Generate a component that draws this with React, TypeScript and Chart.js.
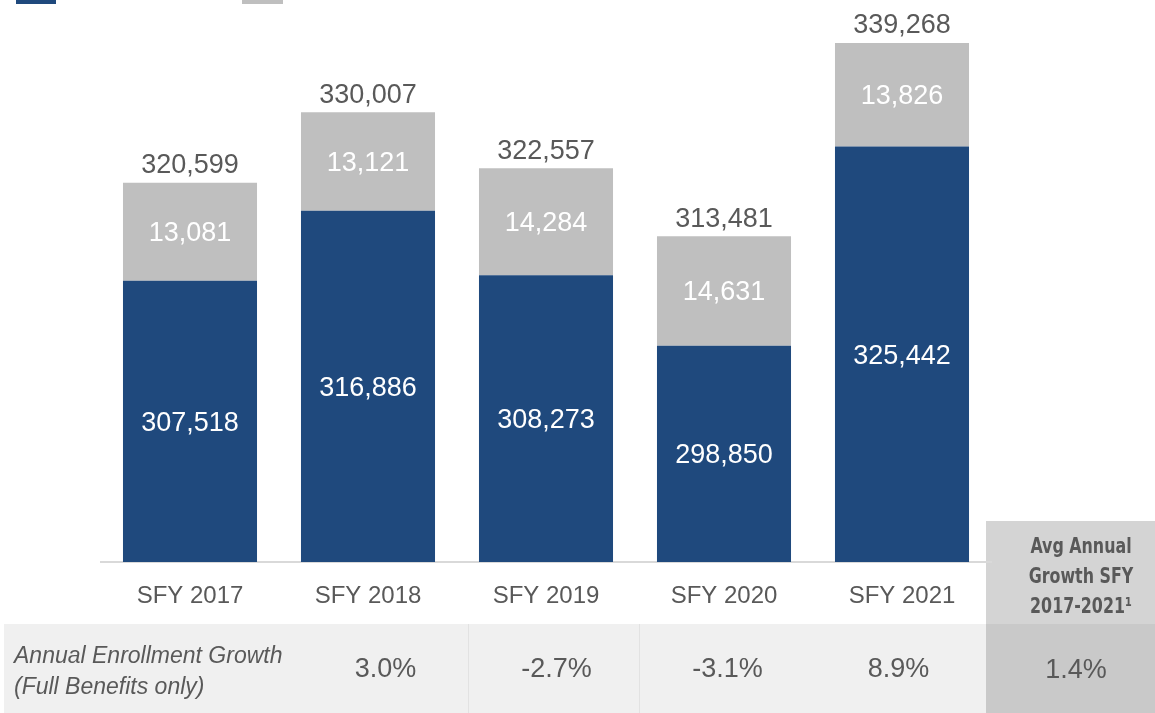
import React, { useEffect, useRef } from "react";
import { Chart, registerables } from "chart.js";

Chart.register(...registerables);

const categories = ["SFY 2017", "SFY 2018", "SFY 2019", "SFY 2020", "SFY 2021"];
const fullBenefits = [307518, 316886, 308273, 298850, 325442];
const limitedBenefits = [13081, 13121, 14284, 14631, 13826];
const totals = [320599, 330007, 322557, 313481, 339268];
const growthRowLabel = ["Annual Enrollment Growth", "(Full Benefits only)"];
const growthValues = ["3.0%", "-2.7%", "-3.1%", "8.9%"];
const avgHeader = ["Avg Annual", "Growth SFY", "2017-2021\u00B9"];
const avgValue = "1.4%";

const BLUE = "#1F497D";
const GRAY = "#BFBFBF";
const TEXT = "#595959";
const FONT = "'Liberation Sans', Arial, sans-serif";

const fmt = (v: number) => v.toLocaleString("en-US");

const decorPlugin = {
  id: "decor",
  beforeDraw(chart: any) {
    const ctx = chart.ctx;
    ctx.save();
    // legend swatches (cut off at top)
    ctx.fillStyle = BLUE;
    ctx.fillRect(16, 0, 40, 4);
    ctx.fillStyle = GRAY;
    ctx.fillRect(242, 0, 41, 4);
    // table row
    ctx.fillStyle = "#F0F0F0";
    ctx.fillRect(4, 624, 982, 89);
    ctx.strokeStyle = "#E2E2E2";
    ctx.lineWidth = 1;
    [468.5, 639.5].forEach((x) => {
      ctx.beginPath();
      ctx.moveTo(x, 624);
      ctx.lineTo(x, 713);
      ctx.stroke();
    });
    // avg box
    ctx.fillStyle = "#D4D4D4";
    ctx.fillRect(986, 521, 169, 103);
    ctx.fillStyle = "#C9C9C9";
    ctx.fillRect(986, 624, 169, 89);
    ctx.restore();
  },
  afterDraw(chart: any) {
    const ctx = chart.ctx;
    ctx.save();
    ctx.fillStyle = TEXT;
    ctx.textBaseline = "middle";
    // row label
    ctx.textAlign = "left";
    ctx.font = `italic 23px ${FONT}`;
    growthRowLabel.forEach((t, i) => ctx.fillText(t, 14, 657 + i * 31));
    // growth values
    ctx.textAlign = "center";
    ctx.font = `27px ${FONT}`;
    const colStart = 300;
    const colW = 171;
    growthValues.forEach((t, i) => ctx.fillText(t, colStart + colW * (i + 0.5), 670));
    // avg box header (condensed bold)
    ctx.font = `bold 21px 'DejaVu Sans Condensed', ${FONT}`;
    avgHeader.forEach((t, i) => {
      ctx.save();
      ctx.translate(1081, 548 + i * 30);
      ctx.scale(0.84, 1);
      ctx.fillText(t, 0, 0);
      ctx.restore();
    });
    ctx.font = `27px ${FONT}`;
    ctx.fillText(avgValue, 1076, 671);
    ctx.restore();
  },
  afterDatasetsDraw(chart: any) {
    const ctx = chart.ctx;
    const bottom = chart.chartArea.bottom;
    ctx.save();
    ctx.textAlign = "center";
    ctx.textBaseline = "middle";
    ctx.font = `27px ${FONT}`;
    [0, 1].forEach((di) => {
      const meta = chart.getDatasetMeta(di);
      meta.data.forEach((el: any, i: number) => {
        const v = chart.data.datasets[di].data[i] as number;
        const base = Math.min(el.base, bottom);
        ctx.fillStyle = "#FFFFFF";
        ctx.fillText(fmt(v), el.x, (el.y + base) / 2 + 2);
      });
    });
    const top = chart.getDatasetMeta(1);
    top.data.forEach((el: any, i: number) => {
      ctx.fillStyle = TEXT;
      ctx.fillText(fmt(totals[i]), el.x, el.y - 17);
    });
    ctx.restore();
  },
};

export default function App() {
  const ref = useRef<HTMLCanvasElement>(null);
  useEffect(() => {
    if (!ref.current) return;
    const chart = new Chart(ref.current, {
      type: "bar",
      data: {
        labels: categories,
        datasets: [
          { label: "Full Benefits", data: fullBenefits, backgroundColor: BLUE, borderWidth: 0 },
          { label: "Limited Benefits", data: limitedBenefits, backgroundColor: GRAY, borderWidth: 0 },
        ],
      },
      options: {
        animation: false,
        responsive: false,
        maintainAspectRatio: false,
        layout: { padding: { left: 101, right: 164, top: 0, bottom: 0 } },
        datasets: { bar: { categoryPercentage: 1, barPercentage: 0.753 } },
        plugins: { legend: { display: false }, tooltip: { enabled: false } },
        scales: {
          x: {
            stacked: true,
            grid: { display: false },
            border: { display: true, color: "#D9D9D9", width: 2 },
            ticks: { color: TEXT, font: { family: FONT, size: 24 }, padding: 12 },
            afterFit: (s: any) => {
              s.height = 151;
            },
          },
          y: {
            stacked: true,
            display: false,
            min: 270000,
            max: 345000,
          },
        },
      },
      plugins: [decorPlugin],
    });
    return () => chart.destroy();
  }, []);
  return (
    <div style={{ position: "absolute", left: 0, top: 0, width: 1155, height: 713, background: "#fff" }}>
      <canvas ref={ref} width={1155} height={713} style={{ width: 1155, height: 713, display: "block" }} />
    </div>
  );
}
